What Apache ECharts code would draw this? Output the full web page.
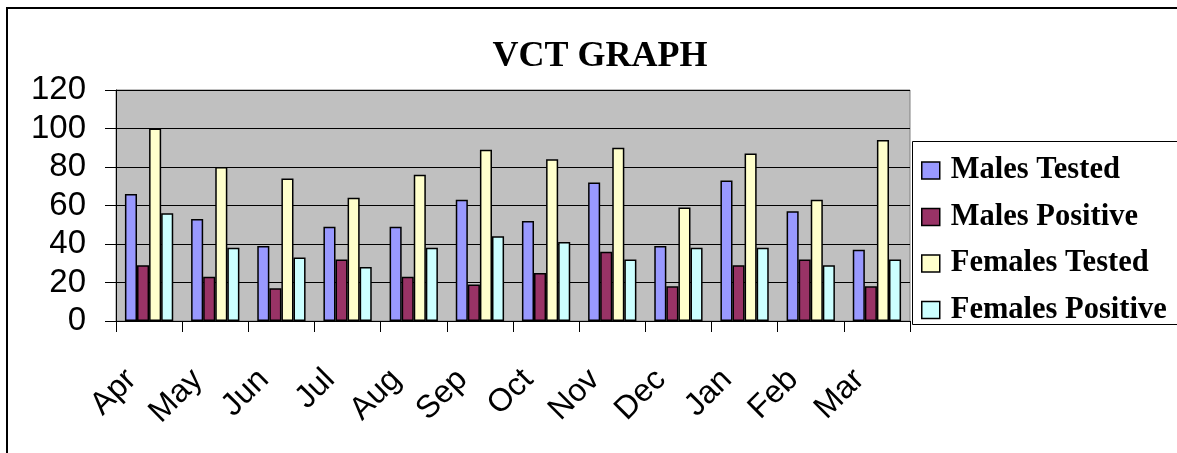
<!DOCTYPE html>
<html>
<head>
<meta charset="utf-8">
<script src="https://cdn.jsdelivr.net/npm/echarts@6/dist/echarts.min.js"></script>
<style>
html,body{margin:0;padding:0;background:#fff;}
#chart{width:1177px;height:453px;}
</style>
</head>
<body>
<div id="chart"></div>
<script>
const months = ['Apr','May','Jun','Jul','Aug','Sep','Oct','Nov','Dec','Jan','Feb','Mar'];
const malesTested = [66,53,39,49,49,63,52,72,39,73,57,37];
const malesPositive = [29,23,17,32,23,19,25,36,18,29,32,18];
const femalesTested = [100,80,74,64,76,89,84,90,59,87,63,94];
const femalesPositive = [56,38,33,28,38,44,41,32,38,38,29,32];
const seriesNames = ['Males Tested','Males Positive','Females Tested','Females Positive'];
const colors = ['#9999FF','#993366','#FFFFCC','#CCFFFF'];
const seriesData = [malesTested, malesPositive, femalesTested, femalesPositive];

const chart = echarts.init(document.getElementById('chart'), null, {renderer:'canvas'});
const option = {
  animation:false,
  title:{
    text:'VCT GRAPH',
    left:595, top:34, textAlign:'center',
    textStyle:{fontFamily:'"Liberation Serif", serif', fontWeight:'bold', fontSize:36, color:'#000'}
  },
  graphic:[
    {type:'rect', z:-10, shape:{x:7,y:8,width:1220,height:500}, style:{fill:'#fff', stroke:'#000', lineWidth:2}},
    {type:'rect', z:-5, shape:{x:912.5,y:141.5,width:300,height:183}, style:{fill:'#fff', stroke:'#000', lineWidth:1}}
  ],
  legend:{
    orient:'vertical',
    left:921, top:155, padding:0,
    itemWidth:18, itemHeight:17, itemGap:15.5,
    icon:'rect',
    itemStyle:{borderColor:'#000', borderWidth:1.5},
    textStyle:{fontFamily:'"Liberation Serif", serif', fontWeight:'bold', fontSize:30.5, lineHeight:30, color:'#000', padding:[0,0,0,6]},
    data:seriesNames
  },
  grid:{
    left:116, top:90, right:267, bottom:132,
    show:true, backgroundColor:'#C0C0C0', borderColor:'#808080', borderWidth:1
  },
  xAxis:{
    type:'category',
    data:months,
    axisLine:{lineStyle:{color:'#000', width:1}},
    axisTick:{show:true, length:11, alignWithLabel:false, lineStyle:{color:'#000'}},
    axisLabel:{rotate:45, margin:36, padding:[0,25,0,0], fontFamily:'"Liberation Sans", Arial, sans-serif', fontSize:32, color:'#000', interval:0},
    splitLine:{show:false}
  },
  yAxis:{
    type:'value', min:0, max:120, interval:20,
    axisLine:{show:true, lineStyle:{color:'#000', width:1}},
    axisTick:{show:true, length:11, lineStyle:{color:'#000'}},
    axisLabel:{margin:30, fontFamily:'"Liberation Sans", Arial, sans-serif', fontSize:33, color:'#000'},
    splitLine:{show:true, lineStyle:{color:'#000', width:1}}
  },
  series: seriesNames.map((n,i)=>({
    name:n, type:'bar', data:seriesData[i],
    barGap:'0%', barCategoryGap:'27%',
    itemStyle:{color:colors[i], borderColor:'#000', borderWidth:1.5}
  }))
};
chart.setOption(option);
</script>
</body>
</html>
